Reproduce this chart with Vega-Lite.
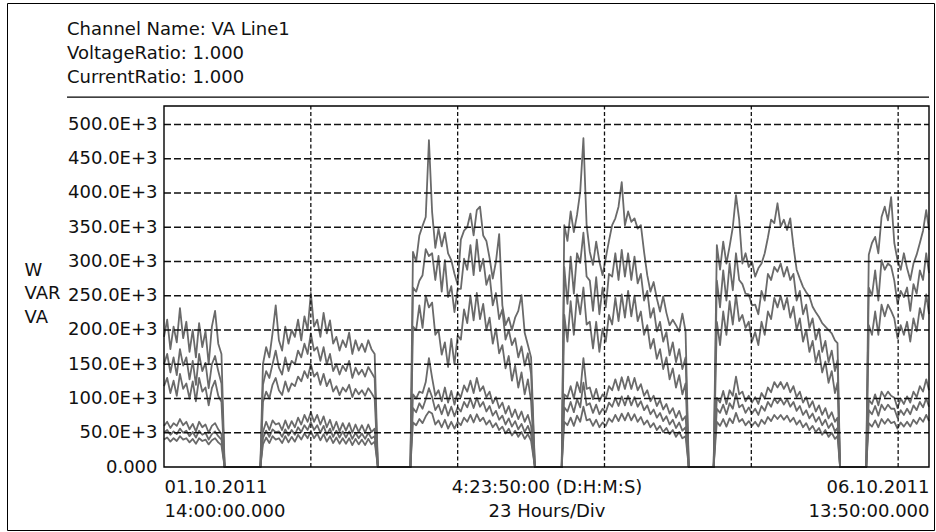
{
  "$schema": "https://vega.github.io/schema/vega-lite/v6.json",
  "width": 927,
  "height": 527,
  "autosize": "none",
  "padding": {"left": 7, "top": 3, "right": 2, "bottom": 2},
  "background": "white",
  "config": {"view": {"stroke": "#000", "strokeWidth": 1}, "font": "DejaVu Sans"},
  "title": {
    "text": ["Channel Name: VA Line1", "VoltageRatio: 1.000", "CurrentRatio: 1.000"],
    "orient": "top", "anchor": "start", "frame": "group", "offset": 0,
    "dx": 60, "dy": 98, "baseline": "alphabetic", "lineHeight": 24,
    "fontSize": 18, "font": "DejaVu Sans", "fontWeight": "normal", "color": "#111"
  },
  "datasets": {
    "series": [
      {"t":0,"a":190,"b":150,"c":118,"d":60,"e":50,"f":40},
      {"t":0.5,"a":215,"b":165,"c":130,"d":66,"e":54,"f":43},
      {"t":1,"a":172,"b":138,"c":108,"d":57,"e":47,"f":37},
      {"t":1.5,"a":205,"b":160,"c":126,"d":64,"e":52,"f":42},
      {"t":2,"a":182,"b":134,"c":104,"d":60,"e":48,"f":38},
      {"t":2.5,"a":232,"b":172,"c":136,"d":70,"e":56,"f":45},
      {"t":3,"a":188,"b":148,"c":114,"d":61,"e":50,"f":40},
      {"t":3.5,"a":212,"b":160,"c":122,"d":66,"e":53,"f":42},
      {"t":4,"a":168,"b":128,"c":100,"d":55,"e":45,"f":36},
      {"t":4.5,"a":200,"b":155,"c":125,"d":63,"e":51,"f":41},
      {"t":5,"a":160,"b":120,"c":96,"d":52,"e":43,"f":34},
      {"t":5.5,"a":210,"b":165,"c":130,"d":66,"e":53,"f":42},
      {"t":6,"a":175,"b":140,"c":110,"d":58,"e":47,"f":38},
      {"t":6.5,"a":198,"b":152,"c":116,"d":62,"e":50,"f":40},
      {"t":7,"a":150,"b":115,"c":90,"d":50,"e":40,"f":33},
      {"t":7.5,"a":205,"b":150,"c":115,"d":60,"e":48,"f":39},
      {"t":8,"a":228,"b":162,"c":126,"d":64,"e":52,"f":42},
      {"t":8.5,"a":180,"b":140,"c":104,"d":55,"e":45,"f":36},
      {"t":9,"a":165,"b":122,"c":95,"d":48,"e":40,"f":32},
      {"t":9.5,"a":0,"b":0,"c":0,"d":0,"e":0,"f":0},
      {"t":15.1,"a":0,"b":0,"c":0,"d":0,"e":0,"f":0},
      {"t":15.5,"a":150,"b":120,"c":95,"d":51,"e":42,"f":33},
      {"t":16,"a":175,"b":140,"c":110,"d":66,"e":53,"f":43},
      {"t":16.5,"a":160,"b":130,"c":100,"d":54,"e":44,"f":35},
      {"t":17,"a":195,"b":150,"c":120,"d":68,"e":55,"f":45},
      {"t":17.5,"a":236,"b":170,"c":130,"d":62,"e":51,"f":40},
      {"t":18,"a":185,"b":145,"c":112,"d":64,"e":52,"f":42},
      {"t":18.5,"a":170,"b":135,"c":105,"d":54,"e":44,"f":35},
      {"t":19,"a":205,"b":160,"c":125,"d":68,"e":55,"f":45},
      {"t":19.5,"a":180,"b":140,"c":110,"d":56,"e":46,"f":36},
      {"t":20,"a":200,"b":155,"c":122,"d":67,"e":54,"f":44},
      {"t":20.5,"a":190,"b":150,"c":118,"d":58,"e":47,"f":37},
      {"t":21,"a":215,"b":170,"c":132,"d":72,"e":58,"f":47},
      {"t":21.5,"a":185,"b":160,"c":125,"d":62,"e":51,"f":40},
      {"t":22,"a":220,"b":180,"c":140,"d":76,"e":61,"f":49},
      {"t":22.5,"a":200,"b":165,"c":130,"d":66,"e":54,"f":42},
      {"t":23,"a":254,"b":195,"c":150,"d":80,"e":65,"f":52},
      {"t":23.5,"a":205,"b":170,"c":132,"d":66,"e":54,"f":42},
      {"t":24,"a":215,"b":175,"c":138,"d":76,"e":61,"f":49},
      {"t":24.5,"a":190,"b":155,"c":120,"d":62,"e":50,"f":39},
      {"t":25,"a":225,"b":175,"c":136,"d":74,"e":60,"f":48},
      {"t":25.5,"a":195,"b":150,"c":118,"d":58,"e":47,"f":37},
      {"t":26,"a":214,"b":165,"c":128,"d":69,"e":56,"f":45},
      {"t":26.5,"a":180,"b":140,"c":110,"d":54,"e":44,"f":35},
      {"t":27,"a":190,"b":150,"c":118,"d":66,"e":53,"f":43},
      {"t":27.5,"a":170,"b":135,"c":105,"d":52,"e":43,"f":34},
      {"t":28,"a":185,"b":148,"c":116,"d":64,"e":52,"f":42},
      {"t":28.5,"a":175,"b":140,"c":110,"d":53,"e":43,"f":34},
      {"t":29,"a":196,"b":155,"c":120,"d":64,"e":52,"f":42},
      {"t":29.5,"a":165,"b":130,"c":102,"d":50,"e":41,"f":32},
      {"t":30,"a":185,"b":145,"c":114,"d":62,"e":50,"f":41},
      {"t":30.5,"a":170,"b":135,"c":106,"d":51,"e":42,"f":33},
      {"t":31,"a":180,"b":142,"c":112,"d":61,"e":49,"f":40},
      {"t":31.5,"a":168,"b":132,"c":104,"d":50,"e":41,"f":32},
      {"t":32,"a":185,"b":146,"c":115,"d":62,"e":50,"f":41},
      {"t":32.5,"a":172,"b":138,"c":108,"d":51,"e":42,"f":33},
      {"t":33,"a":165,"b":130,"c":100,"d":56,"e":45,"f":37},
      {"t":33.5,"a":0,"b":0,"c":0,"d":0,"e":0,"f":0},
      {"t":38.6,"a":0,"b":0,"c":0,"d":0,"e":0,"f":0},
      {"t":39,"a":314,"b":262,"c":205,"d":106,"e":86,"f":65},
      {"t":39.5,"a":300,"b":256,"c":200,"d":100,"e":80,"f":61},
      {"t":40,"a":338,"b":272,"c":236,"d":110,"e":93,"f":70},
      {"t":40.5,"a":352,"b":280,"c":203,"d":108,"e":85,"f":64},
      {"t":41,"a":365,"b":318,"c":250,"d":124,"e":99,"f":74},
      {"t":41.5,"a":477,"b":308,"c":233,"d":159,"e":115,"f":81},
      {"t":42,"a":372,"b":312,"c":240,"d":130,"e":102,"f":78},
      {"t":42.5,"a":320,"b":273,"c":193,"d":104,"e":83,"f":62},
      {"t":43,"a":348,"b":308,"c":200,"d":112,"e":91,"f":68},
      {"t":43.5,"a":322,"b":256,"c":164,"d":96,"e":77,"f":58},
      {"t":44,"a":342,"b":302,"c":182,"d":116,"e":91,"f":69},
      {"t":44.5,"a":312,"b":248,"c":146,"d":94,"e":75,"f":56},
      {"t":45,"a":302,"b":264,"c":187,"d":111,"e":88,"f":66},
      {"t":45.5,"a":282,"b":226,"c":150,"d":91,"e":74,"f":56},
      {"t":46,"a":266,"b":260,"c":192,"d":109,"e":87,"f":66},
      {"t":46.5,"a":332,"b":260,"c":186,"d":102,"e":81,"f":61},
      {"t":47,"a":345,"b":304,"c":230,"d":119,"e":95,"f":72},
      {"t":47.5,"a":350,"b":288,"c":210,"d":110,"e":87,"f":66},
      {"t":48,"a":370,"b":324,"c":250,"d":126,"e":100,"f":76},
      {"t":48.5,"a":338,"b":280,"c":214,"d":108,"e":86,"f":65},
      {"t":49,"a":375,"b":332,"c":254,"d":130,"e":101,"f":77},
      {"t":49.5,"a":380,"b":286,"c":216,"d":111,"e":88,"f":67},
      {"t":50,"a":338,"b":304,"c":238,"d":118,"e":95,"f":72},
      {"t":50.5,"a":330,"b":266,"c":200,"d":102,"e":81,"f":62},
      {"t":51,"a":305,"b":280,"c":218,"d":110,"e":89,"f":68},
      {"t":51.5,"a":275,"b":236,"c":180,"d":93,"e":75,"f":58},
      {"t":52,"a":300,"b":254,"c":202,"d":102,"e":82,"f":64},
      {"t":52.5,"a":340,"b":216,"c":166,"d":86,"e":69,"f":54},
      {"t":53,"a":236,"b":230,"c":178,"d":94,"e":75,"f":59},
      {"t":53.5,"a":207,"b":186,"c":144,"d":78,"e":62,"f":49},
      {"t":54,"a":218,"b":200,"c":162,"d":89,"e":71,"f":56},
      {"t":54.5,"a":200,"b":178,"c":126,"d":73,"e":59,"f":46},
      {"t":55,"a":218,"b":188,"c":148,"d":84,"e":67,"f":53},
      {"t":55.5,"a":228,"b":160,"c":116,"d":70,"e":55,"f":44},
      {"t":56,"a":251,"b":176,"c":138,"d":81,"e":63,"f":51},
      {"t":56.5,"a":196,"b":148,"c":106,"d":66,"e":51,"f":41},
      {"t":57,"a":178,"b":166,"c":128,"d":76,"e":60,"f":48},
      {"t":57.5,"a":160,"b":136,"c":96,"d":60,"e":47,"f":38},
      {"t":58.1,"a":0,"b":0,"c":0,"d":0,"e":0,"f":0},
      {"t":62.3,"a":0,"b":0,"c":0,"d":0,"e":0,"f":0},
      {"t":62.7,"a":353,"b":292,"c":222,"d":106,"e":87,"f":66},
      {"t":63.2,"a":330,"b":238,"c":183,"d":102,"e":81,"f":61},
      {"t":63.7,"a":373,"b":307,"c":242,"d":118,"e":95,"f":72},
      {"t":64.2,"a":343,"b":253,"c":193,"d":100,"e":80,"f":60},
      {"t":64.7,"a":368,"b":312,"c":252,"d":124,"e":99,"f":75},
      {"t":65.2,"a":402,"b":298,"c":223,"d":109,"e":87,"f":66},
      {"t":65.7,"a":480,"b":342,"c":262,"d":159,"e":123,"f":88},
      {"t":66.2,"a":353,"b":278,"c":208,"d":114,"e":90,"f":68},
      {"t":66.7,"a":314,"b":272,"c":212,"d":116,"e":93,"f":70},
      {"t":67.2,"a":295,"b":228,"c":173,"d":99,"e":79,"f":60},
      {"t":67.7,"a":329,"b":277,"c":212,"d":114,"e":91,"f":69},
      {"t":68.2,"a":300,"b":223,"c":168,"d":96,"e":77,"f":58},
      {"t":68.7,"a":280,"b":262,"c":202,"d":106,"e":85,"f":65},
      {"t":69.2,"a":305,"b":233,"c":183,"d":100,"e":80,"f":60},
      {"t":69.7,"a":330,"b":282,"c":222,"d":118,"e":94,"f":71},
      {"t":70.2,"a":353,"b":278,"c":208,"d":112,"e":88,"f":66},
      {"t":70.7,"a":363,"b":312,"c":247,"d":128,"e":101,"f":76},
      {"t":71.2,"a":380,"b":273,"c":213,"d":112,"e":89,"f":67},
      {"t":71.7,"a":416,"b":317,"c":252,"d":131,"e":103,"f":78},
      {"t":72.2,"a":353,"b":278,"c":218,"d":114,"e":90,"f":68},
      {"t":72.7,"a":373,"b":312,"c":257,"d":132,"e":104,"f":79},
      {"t":73.2,"a":358,"b":273,"c":220,"d":114,"e":90,"f":68},
      {"t":73.7,"a":363,"b":307,"c":250,"d":130,"e":102,"f":77},
      {"t":74.2,"a":348,"b":268,"c":213,"d":112,"e":88,"f":66},
      {"t":74.7,"a":353,"b":282,"c":227,"d":121,"e":96,"f":73},
      {"t":75.2,"a":314,"b":243,"c":193,"d":104,"e":83,"f":62},
      {"t":75.7,"a":280,"b":257,"c":207,"d":112,"e":90,"f":68},
      {"t":76.2,"a":256,"b":218,"c":173,"d":96,"e":77,"f":58},
      {"t":76.7,"a":270,"b":232,"c":187,"d":104,"e":84,"f":64},
      {"t":77.2,"a":246,"b":198,"c":158,"d":89,"e":72,"f":54},
      {"t":77.7,"a":227,"b":212,"c":172,"d":98,"e":79,"f":60},
      {"t":78.2,"a":249,"b":183,"c":143,"d":84,"e":67,"f":51},
      {"t":78.7,"a":225,"b":197,"c":160,"d":92,"e":74,"f":57},
      {"t":79.2,"a":207,"b":163,"c":128,"d":78,"e":62,"f":48},
      {"t":79.7,"a":215,"b":182,"c":144,"d":86,"e":69,"f":54},
      {"t":80.2,"a":207,"b":153,"c":116,"d":72,"e":57,"f":44},
      {"t":80.7,"a":198,"b":172,"c":134,"d":82,"e":65,"f":51},
      {"t":81.2,"a":224,"b":143,"c":106,"d":68,"e":53,"f":42},
      {"t":81.7,"a":198,"b":160,"c":122,"d":74,"e":58,"f":45},
      {"t":82.2,"a":0,"b":0,"c":0,"d":0,"e":0,"f":0},
      {"t":86.1,"a":0,"b":0,"c":0,"d":0,"e":0,"f":0},
      {"t":86.6,"a":324,"b":272,"c":212,"d":101,"e":85,"f":66},
      {"t":87.1,"a":288,"b":233,"c":178,"d":94,"e":79,"f":60},
      {"t":87.6,"a":329,"b":287,"c":227,"d":111,"e":91,"f":70},
      {"t":88.1,"a":297,"b":243,"c":193,"d":92,"e":77,"f":59},
      {"t":88.6,"a":322,"b":297,"c":242,"d":112,"e":93,"f":71},
      {"t":89.1,"a":350,"b":258,"c":208,"d":104,"e":85,"f":64},
      {"t":89.6,"a":397,"b":312,"c":251,"d":132,"e":107,"f":79},
      {"t":90.1,"a":361,"b":273,"c":213,"d":106,"e":87,"f":66},
      {"t":90.6,"a":297,"b":267,"c":222,"d":110,"e":91,"f":70},
      {"t":91.1,"a":312,"b":253,"c":203,"d":96,"e":79,"f":61},
      {"t":91.6,"a":292,"b":252,"c":212,"d":104,"e":87,"f":67},
      {"t":92.1,"a":300,"b":236,"c":183,"d":94,"e":78,"f":60},
      {"t":92.6,"a":278,"b":237,"c":197,"d":102,"e":85,"f":66},
      {"t":93.1,"a":290,"b":223,"c":178,"d":92,"e":76,"f":59},
      {"t":93.6,"a":297,"b":257,"c":212,"d":108,"e":89,"f":69},
      {"t":94.1,"a":312,"b":243,"c":193,"d":100,"e":82,"f":63},
      {"t":94.6,"a":335,"b":282,"c":227,"d":116,"e":95,"f":73},
      {"t":95.1,"a":361,"b":273,"c":216,"d":109,"e":88,"f":67},
      {"t":95.6,"a":356,"b":292,"c":247,"d":124,"e":100,"f":76},
      {"t":96.1,"a":385,"b":285,"c":233,"d":116,"e":93,"f":70},
      {"t":96.6,"a":351,"b":297,"c":250,"d":124,"e":100,"f":76},
      {"t":97.1,"a":361,"b":278,"c":230,"d":114,"e":91,"f":69},
      {"t":97.6,"a":346,"b":292,"c":247,"d":123,"e":99,"f":75},
      {"t":98.1,"a":363,"b":273,"c":218,"d":109,"e":88,"f":66},
      {"t":98.6,"a":322,"b":282,"c":234,"d":118,"e":95,"f":72},
      {"t":99.1,"a":288,"b":243,"c":200,"d":102,"e":82,"f":62},
      {"t":99.6,"a":275,"b":257,"c":217,"d":110,"e":89,"f":68},
      {"t":100.1,"a":263,"b":223,"c":183,"d":94,"e":76,"f":58},
      {"t":100.6,"a":255,"b":237,"c":200,"d":102,"e":83,"f":64},
      {"t":101.1,"a":249,"b":203,"c":168,"d":87,"e":71,"f":54},
      {"t":101.6,"a":234,"b":217,"c":184,"d":96,"e":78,"f":60},
      {"t":102.1,"a":226,"b":186,"c":153,"d":81,"e":66,"f":51},
      {"t":102.6,"a":219,"b":202,"c":170,"d":90,"e":73,"f":57},
      {"t":103.1,"a":210,"b":168,"c":138,"d":76,"e":61,"f":47},
      {"t":103.6,"a":205,"b":184,"c":154,"d":86,"e":69,"f":54},
      {"t":104.1,"a":200,"b":153,"c":123,"d":71,"e":57,"f":44},
      {"t":104.6,"a":195,"b":170,"c":140,"d":80,"e":64,"f":50},
      {"t":105.1,"a":185,"b":140,"c":108,"d":66,"e":52,"f":41},
      {"t":105.5,"a":181,"b":156,"c":123,"d":72,"e":57,"f":45},
      {"t":105.9,"a":0,"b":0,"c":0,"d":0,"e":0,"f":0},
      {"t":110,"a":0,"b":0,"c":0,"d":0,"e":0,"f":0},
      {"t":110.4,"a":310,"b":262,"c":207,"d":98,"e":83,"f":64},
      {"t":110.9,"a":327,"b":250,"c":193,"d":92,"e":77,"f":59},
      {"t":111.4,"a":336,"b":287,"c":227,"d":106,"e":89,"f":68},
      {"t":111.9,"a":312,"b":243,"c":193,"d":90,"e":75,"f":58},
      {"t":112.4,"a":365,"b":302,"c":237,"d":110,"e":91,"f":70},
      {"t":112.9,"a":380,"b":288,"c":220,"d":102,"e":83,"f":63},
      {"t":113.4,"a":360,"b":297,"c":237,"d":110,"e":91,"f":70},
      {"t":113.9,"a":394,"b":293,"c":228,"d":104,"e":85,"f":64},
      {"t":114.4,"a":327,"b":272,"c":217,"d":101,"e":85,"f":66},
      {"t":114.9,"a":302,"b":238,"c":188,"d":86,"e":72,"f":56},
      {"t":115.4,"a":288,"b":257,"c":207,"d":100,"e":83,"f":65},
      {"t":115.9,"a":312,"b":248,"c":193,"d":92,"e":76,"f":59},
      {"t":116.4,"a":290,"b":262,"c":212,"d":103,"e":85,"f":66},
      {"t":116.9,"a":273,"b":228,"c":183,"d":94,"e":77,"f":59},
      {"t":117.4,"a":297,"b":267,"c":217,"d":110,"e":90,"f":69},
      {"t":117.9,"a":310,"b":253,"c":198,"d":102,"e":83,"f":63},
      {"t":118.4,"a":327,"b":287,"c":232,"d":118,"e":95,"f":72},
      {"t":118.9,"a":345,"b":273,"c":216,"d":110,"e":87,"f":66},
      {"t":119.4,"a":375,"b":312,"c":252,"d":128,"e":100,"f":76},
      {"t":119.833,"a":346,"b":283,"c":223,"d":112,"e":88,"f":67}
    ],
    "hgrid": [{"g":50},{"g":100},{"g":150},{"g":200},{"g":250},{"g":300},{"g":350},{"g":400},{"g":450},{"g":500}],
    "vgrid": [{"h":23},{"h":46},{"h":69},{"h":92},{"h":115}],
    "one": [{"n":1}]
  },
  "layer": [
    {
      "data": {"name": "series"},
      "transform": [{"fold": ["a","b","c","d","e","f"], "as": ["s","v"]}],
      "mark": {"type": "line", "color": "#6a6a6a", "strokeWidth": 1.8, "strokeJoin": "round"},
      "encoding": {
        "x": {"field": "t", "type": "quantitative", "title": null,
          "scale": {"domain": [0,119.833], "range": [157,922], "nice": false, "zero": false},
          "axis": {"orient": "bottom", "offset": -63, "values": [0, 59.9165, 119.833],
            "labelExpr": "datum.value < 1 ? ['01.10.2011','14:00:00.000'] : datum.value > 119 ? ['06.10.2011','13:50:00.000'] : ['4:23:50:00 (D:H:M:S)','23 Hours/Div']",
            "labelFlush": true, "labelOverlap": false, "labelBound": false, "labelLimit": 0,
            "labelFont": "DejaVu Sans", "labelFontSize": 18, "labelColor": "#111",
            "labelBaseline": "alphabetic", "labelPadding": 25, "labelLineHeight": 24,
            "ticks": false, "domain": false, "grid": false}},
        "y": {"field": "v", "type": "quantitative", "title": ["W","VAR","VA"],
          "scale": {"domain": [0,527], "range": [464,103], "nice": false, "zero": false},
          "axis": {"orient": "left", "offset": -157, "values": [0,50,100,150,200,250,300,350,400,450,500],
            "labelExpr": "datum.value == 0 ? '0.000' : format(datum.value, '.1f') + 'E+3'",
            "labelOverlap": false, "labelBound": false, "labelLimit": 0,
            "labelFont": "DejaVu Sans", "labelFontSize": 18, "labelColor": "#111",
            "labelPadding": 7, "labelBaseline": "middle",
            "ticks": false, "domain": false, "grid": false,
            "titleFont": "DejaVu Sans", "titleFontSize": 18,
            "titleFontWeight": "normal", "titleColor": "#111", "titleAngle": 0,
            "titleAlign": "left", "titleBaseline": "alphabetic", "titleLineHeight": 23.5,
            "titleX": -140, "titleY": 272}},
        "detail": {"field": "s"}
      }
    },
    {
      "data": {"name": "hgrid"},
      "mark": {"type": "rule", "color": "#111", "strokeWidth": 1.3, "strokeDash": [7,3]},
      "encoding": {
        "y": {"field": "g", "type": "quantitative",
          "scale": {"domain": [0,527], "range": [464,103], "nice": false, "zero": false}},
        "x": {"datum": 0, "type": "quantitative",
          "scale": {"domain": [0,119.833], "range": [157,922], "nice": false, "zero": false}},
        "x2": {"datum": 119.833}
      }
    },
    {
      "data": {"name": "vgrid"},
      "mark": {"type": "rule", "color": "#111", "strokeWidth": 1.3, "strokeDash": [4,2.5]},
      "encoding": {
        "x": {"field": "h", "type": "quantitative",
          "scale": {"domain": [0,119.833], "range": [157,922], "nice": false, "zero": false}},
        "y": {"datum": 0, "type": "quantitative",
          "scale": {"domain": [0,527], "range": [464,103], "nice": false, "zero": false}},
        "y2": {"datum": 527}
      }
    },
    {
      "data": {"name": "one"},
      "mark": {"type": "rect", "fill": null, "fillOpacity": 0, "stroke": "#000", "strokeWidth": 1.4},
      "encoding": {
        "x": {"datum": 0, "type": "quantitative",
          "scale": {"domain": [0,119.833], "range": [157,922], "nice": false, "zero": false}},
        "x2": {"datum": 119.833},
        "y": {"datum": 0, "type": "quantitative",
          "scale": {"domain": [0,527], "range": [464,103], "nice": false, "zero": false}},
        "y2": {"datum": 527}
      }
    },
    {
      "data": {"name": "one"},
      "mark": {"type": "rule", "color": "#000", "strokeWidth": 1.3},
      "encoding": {
        "x": {"datum": -15.19, "type": "quantitative",
          "scale": {"domain": [0,119.833], "range": [157,922], "nice": false, "zero": false}},
        "x2": {"datum": 119.833},
        "y": {"datum": 540, "type": "quantitative",
          "scale": {"domain": [0,527], "range": [464,103], "nice": false, "zero": false}}
      }
    }
  ]
}
